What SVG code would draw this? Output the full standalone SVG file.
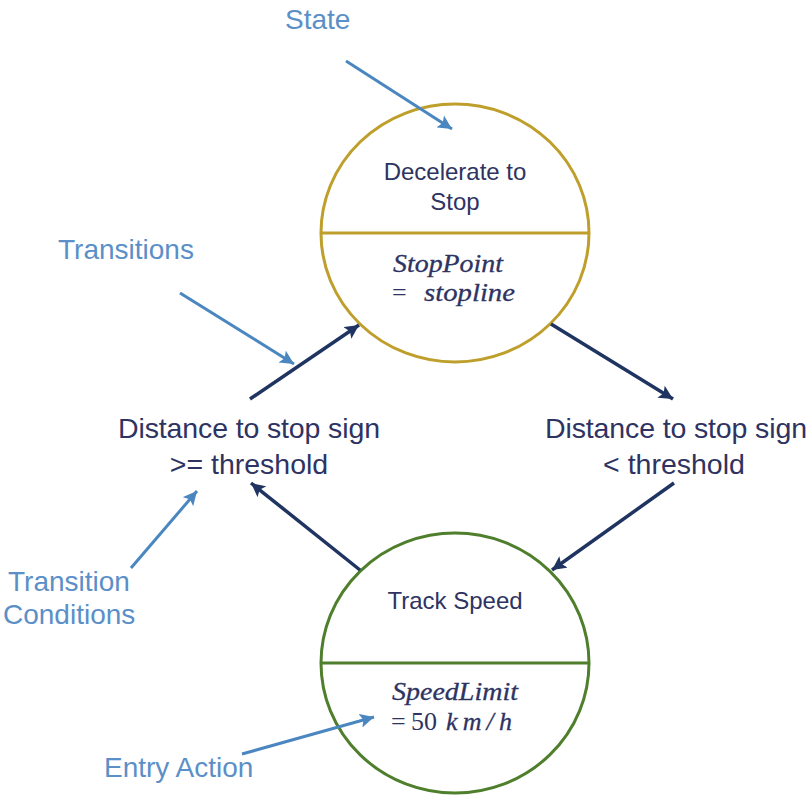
<svg xmlns="http://www.w3.org/2000/svg" width="812" height="798" viewBox="0 0 812 798">
  <defs>
    <marker id="headNavy" markerUnits="userSpaceOnUse" markerWidth="16" markerHeight="14" refX="14" refY="7" orient="auto">
      <path d="M0,0 L14,7 L0,14 L3,7 Z" fill="#1f3461"/>
    </marker>
    <marker id="headBlue" markerUnits="userSpaceOnUse" markerWidth="16" markerHeight="14" refX="14" refY="7" orient="auto">
      <path d="M0,0 L14,7 L0,14 L3,7 Z" fill="#4a86bf"/>
    </marker>
    <style>
      .state-gold { fill: #ffffff; stroke: #bf9f2c; stroke-width: 3; }
      .state-green { fill: #ffffff; stroke: #4f7f2c; stroke-width: 3; }
      .div-gold { stroke: #bf9f2c; stroke-width: 3; }
      .div-green { stroke: #4f7f2c; stroke-width: 3; }
      .name { font-family: "Liberation Sans", Arial, sans-serif; font-size: 24px; fill: #2e3362; text-anchor: middle; }
      .math { font-family: "Liberation Serif", "Times New Roman", serif; font-style: italic; font-size: 26px; fill: #2e3362; stroke: #2e3362; stroke-width: 0.3; }
      .math-up { font-family: "Liberation Serif", "Times New Roman", serif; font-size: 26px; fill: #2e3362; }
      .cond { font-family: "Liberation Sans", Arial, sans-serif; font-size: 28.5px; fill: #2e3362; text-anchor: middle; }
      .note { font-family: "Liberation Sans", Arial, sans-serif; font-size: 28px; fill: #5b8fc8; }
      .edge { stroke: #1f3461; stroke-width: 3.5; fill: none; marker-end: url(#headNavy); }
      .pointer { stroke: #4a86bf; stroke-width: 3; fill: none; marker-end: url(#headBlue); }
    </style>
  </defs>

  <rect width="812" height="798" fill="#ffffff"/>

  <!-- State: Decelerate to Stop -->
  <g id="decelerate">
    <ellipse class="state-gold" cx="455" cy="233" rx="134" ry="129"/>
    <line class="div-gold" x1="321" y1="233" x2="589" y2="233"/>
    <text class="name" x="455" y="180">Decelerate to</text>
    <text class="name" x="455" y="210">Stop</text>
    <text class="math" x="393" y="272" textLength="110" lengthAdjust="spacingAndGlyphs">StopPoint</text>
    <text class="math-up" x="392" y="301">=</text>
    <text class="math" x="424" y="301" textLength="91" lengthAdjust="spacingAndGlyphs">stopline</text>
  </g>

  <!-- State: Track Speed -->
  <g id="track-speed">
    <ellipse class="state-green" cx="455" cy="663" rx="134" ry="130"/>
    <line class="div-green" x1="321" y1="663" x2="589" y2="663"/>
    <text class="name" x="455" y="609">Track Speed</text>
    <text class="math" x="392" y="700" textLength="126" lengthAdjust="spacingAndGlyphs">SpeedLimit</text>
    <text class="math-up" x="391" y="730">=</text>
    <text class="math-up" x="411" y="730">50</text>
    <text class="math" x="446" y="730" textLength="66" lengthAdjust="spacing">km/h</text>
  </g>

  <!-- Transition conditions -->
  <g id="cond-ge">
    <text class="cond" x="249" y="438" textLength="262" lengthAdjust="spacing">Distance to stop sign</text>
    <text class="cond" x="249" y="474">&gt;= threshold</text>
  </g>
  <g id="cond-lt">
    <text class="cond" x="676" y="438" textLength="262" lengthAdjust="spacing">Distance to stop sign</text>
    <text class="cond" x="674" y="474">&lt; threshold</text>
  </g>

  <!-- Transitions between states -->
  <g id="transitions">
    <line class="edge" x1="250" y1="399" x2="359" y2="325"/>
    <line class="edge" x1="551" y1="324" x2="673" y2="399"/>
    <line class="edge" x1="674" y1="483" x2="552" y2="570"/>
    <line class="edge" x1="360" y1="570" x2="251" y2="483"/>
  </g>

  <!-- Callout labels -->
  <g id="notes">
    <text class="note" x="285" y="29">State</text>
    <text class="note" x="58" y="259">Transitions</text>
    <text class="note" x="8" y="591">Transition</text>
    <text class="note" x="3" y="624">Conditions</text>
    <text class="note" x="104" y="777">Entry Action</text>
  </g>

  <!-- Callout pointers -->
  <g id="pointers">
    <line class="pointer" x1="346" y1="61" x2="452" y2="129"/>
    <line class="pointer" x1="180" y1="293" x2="294" y2="364"/>
    <line class="pointer" x1="131" y1="568" x2="197" y2="491"/>
    <line class="pointer" x1="242" y1="754" x2="374" y2="717"/>
  </g>
</svg>
